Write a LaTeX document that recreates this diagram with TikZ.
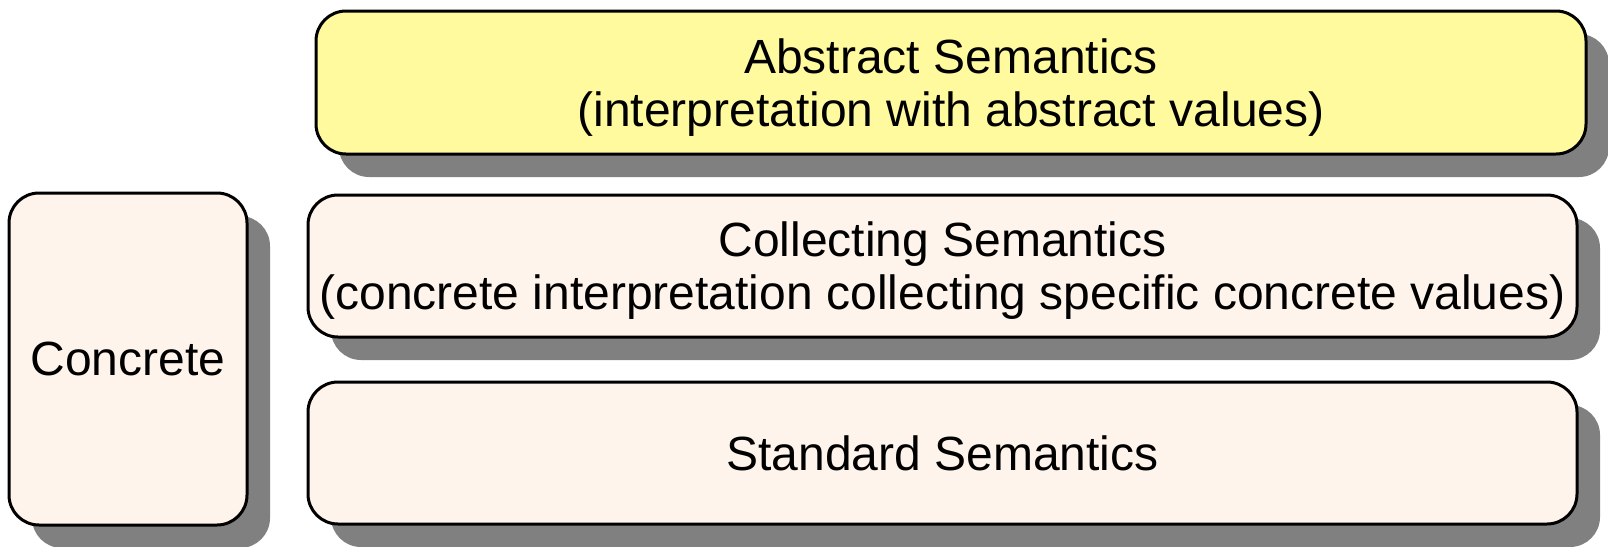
\documentclass[tikz,border=0pt]{standalone}
\usepackage{fontspec}
\setmainfont{Liberation Sans}
\usetikzlibrary{shadows}
\definecolor{peach}{RGB}{254,244,235}
\definecolor{lemon}{RGB}{255,250,158}
\definecolor{shade}{RGB}{128,128,128}
% a taller first line pushes two-line labels slightly down in their boxes
\newcommand{\firstline}{\rule{0pt}{44pt}}
\tikzset{
  layer/.style={draw=black, line width=3pt, rounded corners=30pt,
    align=center, inner sep=0pt,
    font=\fontsize{48}{53}\selectfont,
    drop shadow={shadow xshift=23pt, shadow yshift=-23pt, fill=shade, opacity=1}},
  plainlayer/.style={layer, fill=peach},
}
\begin{document}
\begin{tikzpicture}[x=1pt,y=-1pt]
  \useasboundingbox (0,0) rectangle (1608,546);
  \node[layer, fill=lemon, minimum width=1270pt, minimum height=143pt]
    (abstract) at (951,82.5) {\firstline Abstract Semantics\\(interpretation with abstract values)};
  \node[plainlayer, minimum width=1269pt, minimum height=142pt]
    (collecting) at (942.5,266) {\firstline Collecting Semantics\\(concrete interpretation collecting specific concrete values)};
  \node[plainlayer, minimum width=1269pt, minimum height=142pt]
    (standard) at (942.5,453) {Standard Semantics};
  \node[plainlayer, minimum width=238pt, minimum height=332pt]
    (concrete) at (128,359) {Concrete};
\end{tikzpicture}
\end{document}
